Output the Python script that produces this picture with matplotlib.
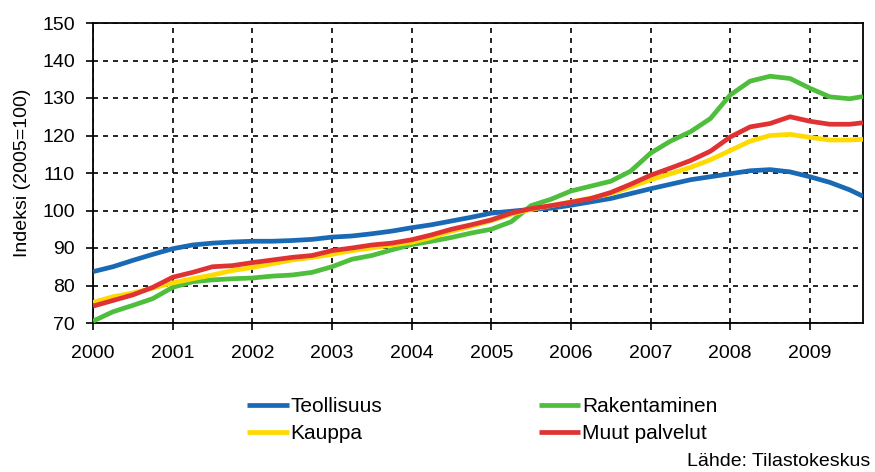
import matplotlib
matplotlib.use("Agg")
import matplotlib.pyplot as plt
import numpy as np

plt.rcParams['font.family'] = ['Liberation Sans', 'DejaVu Sans']

# month offsets from January 2000
months = [0, 3, 6, 9, 12, 15, 18, 21, 24, 27, 30, 33, 36, 39, 42, 45, 48, 51, 54, 57,
          60, 63, 66, 69, 72, 75, 78, 81, 84, 87, 90, 93, 96, 99, 102, 105, 108, 111, 114, 116]

teollisuus = [83.7, 85.0, 86.7, 88.3, 89.8, 90.8, 91.3, 91.6, 91.8, 91.8, 92.0, 92.3,
              92.9, 93.2, 93.8, 94.5, 95.4, 96.2, 97.2, 98.2, 99.3, 99.8, 100.3, 100.6,
              101.4, 102.3, 103.2, 104.5, 105.8, 107.0, 108.2, 109.0, 109.8, 110.6, 110.9, 110.3,
              109.0, 107.5, 105.5, 103.8]
rakentaminen = [70.5, 73.0, 74.7, 76.5, 79.5, 81.0, 81.5, 81.8, 82.0, 82.5, 82.8, 83.5,
                85.0, 87.0, 88.0, 89.5, 90.9, 91.8, 92.8, 94.0, 95.0, 97.0, 101.3, 103.0,
                105.2, 106.5, 107.8, 110.5, 115.3, 118.5, 121.0, 124.5, 130.8, 134.5, 135.8, 135.2,
                132.6, 130.3, 129.8, 130.4]
kauppa = [75.5, 77.0, 78.0, 79.3, 80.7, 81.8, 82.8, 84.0, 84.8, 85.8, 86.8, 87.5,
          88.3, 89.3, 90.0, 90.8, 91.5, 92.8, 94.5, 95.8, 97.3, 99.0, 100.3, 101.3,
          102.3, 103.3, 104.5, 106.3, 108.2, 109.8, 111.5, 113.5, 116.0, 118.5, 120.0, 120.3,
          119.5, 118.8, 118.8, 119.0]
muut_palvelut = [74.5, 76.0, 77.5, 79.5, 82.2, 83.5, 85.0, 85.3, 86.1, 86.8, 87.5, 88.0,
                 89.3, 90.0, 90.8, 91.3, 92.2, 93.5, 95.0, 96.2, 97.5, 99.3, 100.5, 101.3,
                 102.2, 103.2, 104.8, 107.0, 109.4, 111.3, 113.3, 115.8, 119.6, 122.3, 123.2, 125.0,
                 123.8, 123.0, 123.0, 123.4]

series = [
    ("Teollisuus", teollisuus, "#1A69B5"),
    ("Rakentaminen", rakentaminen, "#4EBE3C"),
    ("Kauppa", kauppa, "#FFDA00"),
    ("Muut palvelut", muut_palvelut, "#E03232"),
]

years = list(range(2000, 2010))
yticks = [70, 80, 90, 100, 110, 120, 130, 140, 150]

x = 2000 + np.array(months) / 12.0

fig = plt.figure(figsize=(8.75, 4.72), dpi=100)
ax = fig.add_axes([93/875, 1 - 323/472, (863 - 93)/875, 300/472])

handles = {}
for name, vals, col in series:
    (ln,) = ax.plot(x, vals, color=col, lw=3.4, solid_capstyle='butt', zorder=3)
    handles[name] = ln

ax.set_xlim(2000, 2000 + 116/12)
ax.set_ylim(70, 150)
ax.set_xticks(years)
ax.set_xticklabels([str(y) for y in years])
ax.set_yticks(yticks)
ax.grid(True, color='black', linestyle=(0, (3, 3)), linewidth=1.2, zorder=1)
for s in ax.spines.values():
    s.set_linewidth(1.3)
    s.set_color('black')
ax.tick_params(axis='both', direction='out', length=5, width=1.2, labelsize=14)
ax.tick_params(axis='x', pad=11)
ax.tick_params(axis='y', pad=8)
ax.set_ylabel("Indeksi (2005=100)", fontsize=14, labelpad=8)

order = ["Teollisuus", "Kauppa", "Rakentaminen", "Muut palvelut"]
fig.legend([handles[n] for n in order], order, ncol=2, loc='upper left',
           bbox_to_anchor=(247/875, 1 - 397/472), frameon=False, fontsize=15,
           handlelength=2.0, handletextpad=0.1, columnspacing=7.5,
           labelspacing=0.4, borderaxespad=0, borderpad=0)

fig.text(870/875, 1 - 462/472, "Lähde: Tilastokeskus", ha='right', va='center', fontsize=14)

fig.savefig("out.png", dpi=100)
